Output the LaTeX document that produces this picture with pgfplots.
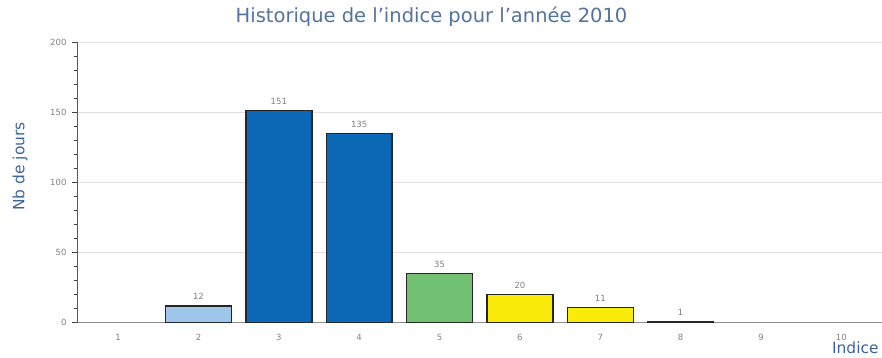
\documentclass[border=0pt]{standalone}
\usepackage{pgfplots}
\pgfplotsset{compat=1.18}
\usepackage{fontspec}
\setmainfont{DejaVu Sans}
\definecolor{titleblue}{HTML}{5272A0}
\definecolor{labblue}{HTML}{3D64A0}
\definecolor{tickgray}{HTML}{808080}
\definecolor{lightblue}{HTML}{9FC5EA}
\definecolor{darkblue}{HTML}{0A68B4}
\definecolor{greenb}{HTML}{72C172}
\definecolor{yellowb}{HTML}{F9EB0A}
\begin{document}
\begin{tikzpicture}
\begin{axis}[
  scale only axis,
  width=804pt, height=281pt,
  xmin=0.5, xmax=10.5,
  ymin=0, ymax=200,
  axis lines*=left,
  axis line style={draw=black!65, line width=1pt},
  x axis line style={draw=black!45},
  xtick={1,2,3,4,5,6,7,8,9,10},
  xtick style={draw=none},
  ytick={0,50,100,150,200},
  minor ytick={10,20,30,40,60,70,80,90,110,120,130,140,160,170,180,190},
  ytick style={draw=black!75, line width=0.9pt},
  tick align=outside,
  major tick length=6pt,
  minor tick length=4pt,
  ymajorgrids,
  major grid style={draw=black!12, line width=0.8pt},
  /pgf/number format/assume math mode=true,
  tick label style={font=\fontsize{8.5}{10}\selectfont, text=tickgray},
  yticklabel style={xshift=-2pt},
  xticklabel style={yshift=-2pt},
  title={Historique de l'indice pour l'année 2010},
  title style={at={(0.44,1)}, anchor=base, yshift=13pt, font=\fontsize{19.5}{21}\selectfont, text=titleblue},
  ylabel={Nb de jours},
  ylabel style={font=\fontsize{15.5}{17}\selectfont, text=labblue, at={(axis description cs:0,0.5)}, anchor=center, yshift=58pt, xshift=16pt},
  ybar, bar width=66pt,
  nodes near coords,
  nodes near coords style={font=\fontsize{8.5}{10}\selectfont, text=tickgray, yshift=2pt},
  every axis plot/.append style={bar shift=0pt, draw=black!85, line width=1.4pt},
]
\addplot[fill=lightblue] coordinates {(2,12)};
\addplot[fill=darkblue] coordinates {(3,151) (4,135)};
\addplot[fill=greenb] coordinates {(5,35)};
\addplot[fill=yellowb] coordinates {(6,20) (7,11)};
\addplot[fill=black] coordinates {(8,1)};
\end{axis}
\node[font=\fontsize{15.5}{17}\selectfont, text=labblue, anchor=base west] at (751pt,-31pt) {Indice};
\useasboundingbox (-78pt,-33pt) rectangle (804pt,323pt);
\end{tikzpicture}
\end{document}
